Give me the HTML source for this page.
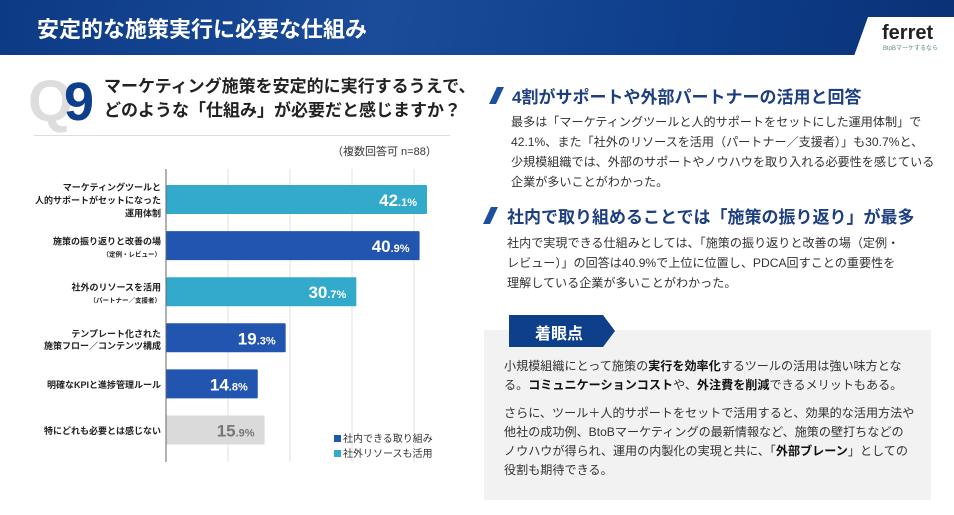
<!DOCTYPE html>
<html><head><meta charset="utf-8">
<style>
*{margin:0;padding:0;box-sizing:border-box}
body{width:954px;height:515px;position:relative;overflow:hidden;background:#fff;font-family:"Liberation Sans","Noto Sans CJK JP",sans-serif;color:#222}
.abs{position:absolute}
.p{font-size:12.1px;line-height:20px;color:#333;white-space:nowrap}
.h{font-size:17px;font-weight:bold;color:#1d3f80;white-space:nowrap}
.slash{position:absolute;width:7px;height:17px;background:#1d4f9c;transform:skewX(-25deg)}
b{color:#111}
</style></head><body>
<div class="abs" style="left:0;top:0;width:954px;height:55px;background:linear-gradient(100deg,#0d3a85 0%,#1a4c9a 40%,#0e3f8c 70%,#0a3176 100%)"></div>
<div class="abs" style="left:37px;top:12px;font-size:22px;font-weight:bold;color:#fff;white-space:nowrap">安定的な施策実行に必要な仕組み</div>
<svg class="abs" style="left:850px;top:16px" width="104" height="40"><polygon points="18,1 104,1 104,40 4,40" fill="#fff"/></svg>
<div class="abs" style="left:882px;top:22px;font-size:20px;font-weight:bold;color:#222">ferret</div>
<div class="abs" style="left:883px;top:43px;font-size:6px;color:#5a8a80;white-space:nowrap">BtoBマーケするなら</div>

<div class="abs" style="left:28px;top:72px;font-size:58px;font-weight:bold;color:#ddd;line-height:60px">Q</div>
<div class="abs" style="left:64px;top:72px;font-size:54px;font-weight:bold;color:#0d3f8a;line-height:60px">9</div>
<div class="abs" style="left:104px;top:75px;font-size:17px;font-weight:bold;line-height:24px;color:#222;white-space:nowrap">マーケティング施策を安定的に実行するうえで、<br>どのような「仕組み」が必要だと感じますか？</div>
<div class="abs" style="left:34px;top:135px;width:416px;height:1px;background:#ddd"></div>
<div class="abs" style="left:332px;top:143px;font-size:11px;color:#333;white-space:nowrap">（複数回答可 n=88）</div>

<svg id="chart" class="abs" style="left:0;top:0" width="480" height="515"></svg>

<div class="abs" style="left:334px;top:430px;font-size:10px;white-space:nowrap;color:#333"><span style="display:inline-block;width:7px;height:7px;background:#2255b0;margin-right:2px"></span>社内できる取り組み</div>
<div class="abs" style="left:334px;top:445px;font-size:10px;white-space:nowrap;color:#333"><span style="display:inline-block;width:7px;height:7px;background:#33aacc;margin-right:2px"></span>社外リソースも活用</div>

<div class="slash" style="left:493px;top:87px"></div>
<div class="abs h" style="left:512px;top:83px">4割がサポートや外部パートナーの活用と回答</div>
<div class="abs p" style="left:511px;top:112px">最多は「マーケティングツールと人的サポートをセットにした運用体制」で<br>42.1%、また「社外のリソースを活用（パートナー／支援者）」も30.7%と、<br>少規模組織では、外部のサポートやノウハウを取り入れる必要性を感じている<br>企業が多いことがわかった。</div>
<div class="slash" style="left:487px;top:207px"></div>
<div class="abs h" style="left:507px;top:203px">社内で取り組めることでは「施策の振り返り」が最多</div>
<div class="abs p" style="left:507px;top:233px">社内で実現できる仕組みとしては、「施策の振り返りと改善の場（定例・<br>レビュー）」の回答は40.9%で上位に位置し、PDCA回すことの重要性を<br>理解している企業が多いことがわかった。</div>

<div class="abs" style="left:484px;top:330px;width:447px;height:170px;background:#f2f2f2"></div>
<svg class="abs" style="left:509px;top:315px" width="108" height="33"><polygon points="0,0 94,0 106,16 94,32 0,32" fill="#0d3f8a"/></svg>
<div class="abs" style="left:535px;top:320px;font-size:16px;font-weight:bold;color:#fff">着眼点</div>
<div class="abs p" style="left:504px;top:357px;line-height:19px">小規模組織にとって施策の<b>実行を効率化</b>するツールの活用は強い味方とな<br>る。<b>コミュニケーションコスト</b>や、<b>外注費を削減</b>できるメリットもある。</div>
<div class="abs p" style="left:504px;top:404px;line-height:19px">さらに、ツール＋人的サポートをセットで活用すると、効果的な活用方法や<br>他社の成功例、BtoBマーケティングの最新情報など、施策の壁打ちなどの<br>ノウハウが得られ、運用の内製化の実現と共に、「<b>外部ブレーン</b>」としての<br>役割も期待できる。</div>

<script>
const categories=[["マーケティングツールと","人的サポートがセットになった","運用体制"],["施策の振り返りと改善の場","(定例・レビュー)"],["社外のリソースを活用","(パートナー／支援者)"],["テンプレート化された","施策フロー／コンテンツ構成"],["明確なKPIと進捗管理ルール"],["特にどれも必要とは感じない"]];
const values=[42.1,40.9,30.7,19.3,14.8,15.9];
const seriesType=["ext","int","ext","int","int","none"];
const gridTicks=[0,10,20,30,40];
const svg=document.getElementById('chart');
const NS='http://www.w3.org/2000/svg';
const x0=166,pxPer=6.2,top0=185,step=46.1,bh=29;
const xs=v=>x0+v*pxPer;
const ys=i=>top0+i*step;
const col={ext:'#33aacc',int:'#2255b0',none:'#dadada'};
function mk(t,a){const e=document.createElementNS(NS,t);for(const k in a)e.setAttribute(k,a[k]);svg.appendChild(e);return e;}
gridTicks.forEach(t=>{if(t===0)return;const l=mk('line',{x1:xs(t),x2:xs(t),y1:169,y2:462,stroke:'#e2e2e2','stroke-width':1});

});
values.forEach((v,i)=>{
const r=mk('rect',{x:x0,y:ys(i),width:v*pxPer,height:bh,fill:col[seriesType[i]],rx:1});


const s=String(v).split('.');
const t=mk('text',{x:xs(v)-10,y:ys(i)+21,'text-anchor':'end','font-weight':'bold',fill:seriesType[i]==='none'?'#777':'#fff','font-family':'Liberation Sans, sans-serif'});


t.innerHTML='<tspan font-size="17">'+s[0]+'</tspan><tspan font-size="11">.'+s[1]+'%</tspan>';
const lines=categories[i];
const cy=ys(i)+bh/2;
const n=lines.length;
lines.forEach((ln,j)=>{
const small=ln.startsWith('(');
const yy=n===1?cy+4:(n===2?(j===0?cy-1:cy+11):cy-9+j*13);
const tt=mk('text',{x:161,y:yy,'text-anchor':'end','font-size':small?6.5:9,'font-weight':'bold',fill:'#222','font-family':'Liberation Sans, Noto Sans CJK JP, sans-serif'});
tt.textContent=small?'（'+ln.slice(1,-1)+'）':ln;


});
});
const ax=mk('line',{x1:x0,x2:x0,y1:169,y2:462,stroke:'#666','stroke-width':1});


</script>
</body></html>
